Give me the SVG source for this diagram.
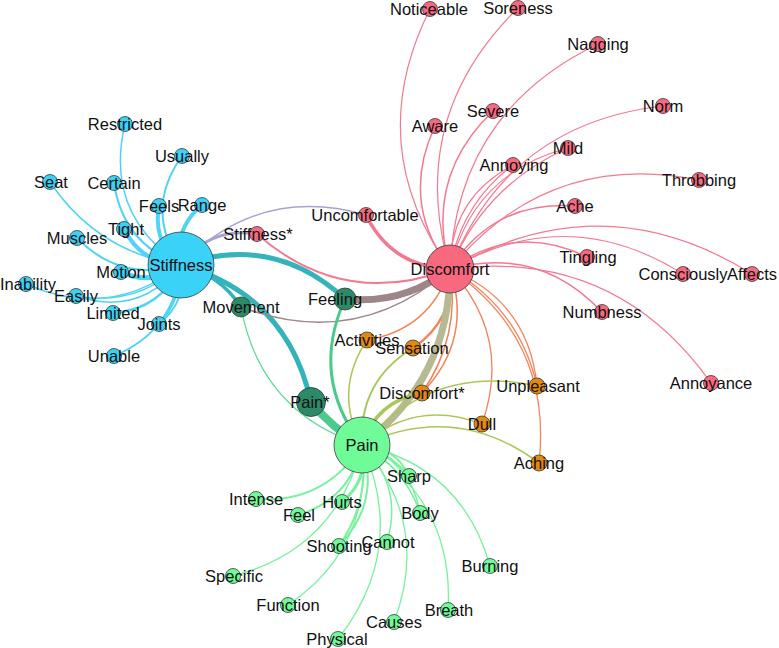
<svg xmlns="http://www.w3.org/2000/svg" width="779" height="648" viewBox="0 0 779 648">
<style>
.e{fill:none;stroke-linecap:round}
.ec{stroke:#4fd3f6}
.ep{stroke:#f47890}
.eg{stroke:#78f29e}
.eo{stroke:#f28358}
.ey{stroke:#aac85a}
.n{stroke:#3a3a3a;stroke-width:0.8}
.nc{fill:#3bd2f8}
.np{fill:#f8697f}
.ng{fill:#6ffb98}
.no{fill:#e5880f}
.nd{fill:#2b8a68}
text{font-family:"Liberation Sans",Arial,sans-serif;font-size:16.5px;fill:#111;text-anchor:middle}
</style>
<rect width="779" height="648" fill="#ffffff"/>
<g id="connectors">
<!-- Stiffness spokes -->
<path class="e ec" stroke-width="1.5" d="M181 265 Q103.6 214.1 125 124"/>
<path class="e ec" stroke-width="2" d="M181 265 Q143.3 210.2 182 156"/>
<path class="e ec" stroke-width="1.5" d="M181 265 Q97.2 252.3 50 182"/>
<path class="e ec" stroke-width="2" d="M181 265 Q122.9 244.1 114 183"/>
<path class="e ec" stroke-width="4" d="M181 265 Q152.3 242.1 159 206"/>
<path class="e ec" stroke-width="4" d="M181 265 Q173.5 228.7 202 205"/>
<path class="e ec" stroke-width="4" d="M181 265 Q141.7 264.1 124 229"/>
<path class="e ec" stroke-width="2" d="M181 265 Q120.9 282.7 77 238"/>
<path class="e ec" stroke-width="5" d="M181 265 Q153.1 286.5 121 272"/>
<path class="e ec" stroke-width="1.5" d="M181 265 Q109.2 321 26 284"/>
<path class="e ec" stroke-width="1.5" d="M181 265 Q139.4 317.3 76 296"/>
<path class="e ec" stroke-width="1.5" d="M181 265 Q136.3 306.8 76 296"/>
<path class="e ec" stroke-width="2.5" d="M181 265 Q161.4 309.4 113 313"/>
<path class="e ec" stroke-width="2" d="M181 265 Q187.7 301.1 159 324"/>
<path class="e ec" stroke-width="2" d="M181 265 Q181.8 298.9 159 324"/>
<path class="e ec" stroke-width="2" d="M181 265 Q174.8 330.6 114 356"/>
<!-- Stiffness to pink / others -->
<path class="e" stroke="#a6a2d2" stroke-width="1.5" d="M181 265 Q258.5 184.5 366 215"/>
<path class="e" stroke="#a6a2d2" stroke-width="3" d="M181 265 Q209.7 226.7 257 234"/>
<path class="e" stroke="#34b4ba" stroke-width="5" d="M181 265 Q273.2 232.8 345 299"/>
<path class="e" stroke="#34b4ba" stroke-width="3.5" d="M181 265 Q219.4 274 241 307"/>
<path class="e" stroke="#34b4ba" stroke-width="5" d="M181 265 Q287.1 294.5 311 402"/>
<!-- Discomfort spokes -->
<path class="e ep" stroke-width="1.2" d="M450 269 Q362 145 430 9"/>
<path class="e ep" stroke-width="1.2" d="M450 269 Q405.7 118.1 518 8"/>
<path class="e ep" stroke-width="1.2" d="M450 269 Q456.5 112.1 598 44"/>
<path class="e ep" stroke-width="1.2" d="M450 269 Q507.6 123.6 663 106"/>
<path class="e ep" stroke-width="1.5" d="M450 269 Q424.1 177.1 493 111"/>
<path class="e ep" stroke-width="1.5" d="M450 269 Q399.6 202 435 126"/>
<path class="e ep" stroke-width="1.2" d="M450 269 Q472.7 173.1 568 148"/>
<path class="e ep" stroke-width="1.2" d="M450 269 Q484.8 184.9 568 148"/>
<path class="e ep" stroke-width="1.2" d="M450 269 Q450.3 198.1 513 165"/>
<path class="e ep" stroke-width="1.2" d="M450 269 Q460.7 204.4 513 165"/>
<path class="e ep" stroke-width="1.2" d="M450 269 Q547.8 149.8 699 180"/>
<path class="e ep" stroke-width="1.5" d="M450 269 Q493.6 200 575 206"/>
<path class="e ep" stroke-width="1.5" d="M450 269 Q514.9 221.9 587 257"/>
<path class="e ep" stroke-width="1.2" d="M450 269 Q568 201.6 683 274"/>
<path class="e ep" stroke-width="1.2" d="M450 269 Q602.5 180.9 752 274"/>
<path class="e ep" stroke-width="1.5" d="M450 269 Q538.9 244.9 602 312"/>
<path class="e ep" stroke-width="1.2" d="M450 269 Q614.7 247.7 711 383"/>
<path class="e ep" stroke-width="3.5" d="M450 269 Q391.8 267.2 366 215"/>
<path class="e ep" stroke-width="2" d="M450 269 Q343 309.4 257 234"/>
<!-- Discomfort to dark green -->
<path class="e" stroke="#9c8687" stroke-width="7" d="M450 269 Q403.5 305 345 299"/>
<path class="e" stroke="#a08688" stroke-width="1.5" d="M450 269 Q356.9 350.7 241 307"/>
<!-- Discomfort to orange -->
<path class="e eo" stroke-width="1.5" d="M450 269 Q429.8 329.4 367 340"/>
<path class="e eo" stroke-width="2.5" d="M450 269 Q455.2 319.6 413 348"/>
<path class="e eo" stroke-width="1.5" d="M450 269 Q473.2 339.4 422 393"/>
<path class="e eo" stroke-width="1.5" d="M450 269 Q460.8 336.6 422 393"/>
<path class="e eo" stroke-width="1.3" d="M450 269 Q512.5 336.9 482 424"/>
<path class="e eo" stroke-width="1.3" d="M450 269 Q528.6 301.4 537 386"/>
<path class="e eo" stroke-width="1.3" d="M450 269 Q519.2 308.4 537 386"/>
<path class="e eo" stroke-width="1.3" d="M450 269 Q552.7 339.3 539 463"/>
<!-- Discomfort to Pain -->
<path class="e" stroke="#b6b991" stroke-width="7" d="M450 269 Q450 379 362 445"/>
<!-- Pain to orange -->
<path class="e ey" stroke-width="1.5" d="M362 445 Q333 391 367 340"/>
<path class="e ey" stroke-width="2" d="M362 445 Q358.4 381.2 413 348"/>
<path class="e ey" stroke-width="3.5" d="M362 445 Q376.4 401 422 393"/>
<path class="e ey" stroke-width="1.5" d="M362 445 Q431.8 363 537 386"/>
<path class="e ey" stroke-width="1.5" d="M362 445 Q415.7 398.5 482 424"/>
<path class="e ey" stroke-width="1.5" d="M362 445 Q455.9 400.9 539 463"/>
<!-- Pain to dark green -->
<path class="e" stroke="#4cc98c" stroke-width="8" d="M362 445 Q332.2 428.6 311 402"/>
<path class="e" stroke="#4cc98c" stroke-width="3" d="M362 445 Q309.7 377.1 345 299"/>
<path class="e" stroke="#5bd993" stroke-width="1.3" d="M362 445 Q260.1 412.3 241 307"/>
<!-- Pain spokes -->
<path class="e eg" stroke-width="2" d="M362 445 Q394.8 446.4 409 476"/>
<path class="e eg" stroke-width="2" d="M362 445 Q390.2 453.5 409 476"/>
<path class="e eg" stroke-width="2" d="M362 445 Q325.2 503.8 256 499"/>
<path class="e eg" stroke-width="3" d="M362 445 Q369.1 479.5 342 502"/>
<path class="e eg" stroke-width="2" d="M362 445 Q351 499.2 298 515"/>
<path class="e eg" stroke-width="1.5" d="M362 445 Q411.4 461.6 420 513"/>
<path class="e eg" stroke-width="1.5" d="M362 445 Q404.6 467.4 420 513"/>
<path class="e eg" stroke-width="2" d="M362 445 Q380.8 502.4 339 546"/>
<path class="e eg" stroke-width="2" d="M362 445 Q370.7 500.1 339 546"/>
<path class="e eg" stroke-width="1.5" d="M362 445 Q403.6 486 387 542"/>
<path class="e eg" stroke-width="1.3" d="M362 445 Q462.3 467.1 490 566"/>
<path class="e eg" stroke-width="1.3" d="M362 445 Q336.8 549.2 233 576"/>
<path class="e eg" stroke-width="1.3" d="M362 445 Q373 547.2 288 605"/>
<path class="e eg" stroke-width="1.3" d="M362 445 Q454.5 501.7 448 610"/>
<path class="e eg" stroke-width="1.3" d="M362 445 Q431.1 523.9 394 622"/>
<path class="e eg" stroke-width="1.3" d="M362 445 Q408.2 549.2 338 639"/>
</g>
<!-- Stiffness cluster -->
<g id="n-stiffness"><circle class="n nc" cx="181" cy="265" r="33"/><text x="181" y="271">Stiffness</text></g>
<g id="n-restricted"><circle class="n nc" cx="125" cy="124" r="7.5"/><text x="125" y="130">Restricted</text></g>
<g id="n-usually"><circle class="n nc" cx="182" cy="156" r="7.5"/><text x="182" y="162">Usually</text></g>
<g id="n-seat"><circle class="n nc" cx="50" cy="182" r="7.5"/><text x="51" y="188">Seat</text></g>
<g id="n-certain"><circle class="n nc" cx="114" cy="183" r="7.5"/><text x="114" y="189">Certain</text></g>
<g id="n-feels"><circle class="n nc" cx="159" cy="206" r="7.5"/><text x="159" y="212">Feels</text></g>
<g id="n-range"><circle class="n nc" cx="202" cy="205" r="7.5"/><text x="202" y="211">Range</text></g>
<g id="n-tight"><circle class="n nc" cx="124" cy="229" r="7.5"/><text x="126" y="235">Tight</text></g>
<g id="n-muscles"><circle class="n nc" cx="77" cy="238" r="7.5"/><text x="77" y="244">Muscles</text></g>
<g id="n-motion"><circle class="n nc" cx="121" cy="272" r="7.5"/><text x="121" y="278">Motion</text></g>
<g id="n-inability"><circle class="n nc" cx="26" cy="284" r="7.5"/><text x="28" y="290">Inability</text></g>
<g id="n-easily"><circle class="n nc" cx="76" cy="296" r="7.5"/><text x="76" y="302">Easily</text></g>
<g id="n-limited"><circle class="n nc" cx="113" cy="313" r="7.5"/><text x="113" y="319">Limited</text></g>
<g id="n-joints"><circle class="n nc" cx="159" cy="324" r="7.5"/><text x="159" y="330">Joints</text></g>
<g id="n-unable"><circle class="n nc" cx="114" cy="356" r="7.5"/><text x="114" y="362">Unable</text></g>
<!-- Discomfort cluster -->
<g id="n-discomfort"><circle class="n np" cx="450" cy="269" r="24"/><text x="450" y="275">Discomfort</text></g>
<g id="n-noticeable"><circle class="n np" cx="430" cy="9" r="7.5"/><text x="429" y="15">Noticeable</text></g>
<g id="n-soreness"><circle class="n np" cx="518" cy="8" r="7.5"/><text x="518" y="14">Soreness</text></g>
<g id="n-nagging"><circle class="n np" cx="598" cy="44" r="7.5"/><text x="598" y="50">Nagging</text></g>
<g id="n-norm"><circle class="n np" cx="663" cy="106" r="7.5"/><text x="663" y="112">Norm</text></g>
<g id="n-severe"><circle class="n np" cx="493" cy="111" r="7.5"/><text x="493" y="117">Severe</text></g>
<g id="n-aware"><circle class="n np" cx="435" cy="126" r="7.5"/><text x="435" y="132">Aware</text></g>
<g id="n-mild"><circle class="n np" cx="568" cy="148" r="7.5"/><text x="568" y="154">Mild</text></g>
<g id="n-annoying"><circle class="n np" cx="513" cy="165" r="7.5"/><text x="514" y="171">Annoying</text></g>
<g id="n-throbbing"><circle class="n np" cx="699" cy="180" r="7.5"/><text x="699" y="186">Throbbing</text></g>
<g id="n-ache"><circle class="n np" cx="575" cy="206" r="7.5"/><text x="575" y="212">Ache</text></g>
<g id="n-tingling"><circle class="n np" cx="587" cy="257" r="7.5"/><text x="588" y="263">Tingling</text></g>
<g id="n-consciously"><circle class="n np" cx="683" cy="274" r="7.5"/><text x="683" y="280">Consciously</text></g>
<g id="n-affects"><circle class="n np" cx="752" cy="274" r="7.5"/><text x="752" y="280">Affects</text></g>
<g id="n-numbness"><circle class="n np" cx="602" cy="312" r="7.5"/><text x="602" y="318">Numbness</text></g>
<g id="n-annoyance"><circle class="n np" cx="711" cy="383" r="7.5"/><text x="711" y="389">Annoyance</text></g>
<g id="n-uncomfortable"><circle class="n np" cx="366" cy="215" r="7.5"/><text x="365" y="221">Uncomfortable</text></g>
<g id="n-stiffness-star"><circle class="n np" cx="257" cy="234" r="7.5"/><text x="258" y="240">Stiffness*</text></g>
<!-- Dark green -->
<g id="n-feeling"><circle class="n nd" cx="345" cy="299" r="11"/><text x="335" y="305">Feeling</text></g>
<g id="n-movement"><circle class="n nd" cx="241" cy="307" r="10"/><text x="241" y="313">Movement</text></g>
<g id="n-pain-star"><circle class="n nd" cx="311" cy="402" r="14.5"/><text x="310" y="408">Pain*</text></g>
<!-- Orange -->
<g id="n-activities"><circle class="n no" cx="367" cy="340" r="8"/><text x="367" y="346">Activities</text></g>
<g id="n-sensation"><circle class="n no" cx="413" cy="348" r="8"/><text x="412" y="354">Sensation</text></g>
<g id="n-discomfort-star"><circle class="n no" cx="422" cy="393" r="8"/><text x="422" y="399">Discomfort*</text></g>
<g id="n-unpleasant"><circle class="n no" cx="537" cy="386" r="8"/><text x="538" y="392">Unpleasant</text></g>
<g id="n-dull"><circle class="n no" cx="482" cy="424" r="8"/><text x="482" y="430">Dull</text></g>
<g id="n-aching"><circle class="n no" cx="539" cy="463" r="8"/><text x="539" y="469">Aching</text></g>
<!-- Pain cluster -->
<g id="n-pain"><circle class="n ng" cx="362" cy="445" r="28"/><text x="362" y="451">Pain</text></g>
<g id="n-sharp"><circle class="n ng" cx="409" cy="476" r="7.5"/><text x="409" y="482">Sharp</text></g>
<g id="n-intense"><circle class="n ng" cx="256" cy="499" r="7.5"/><text x="256" y="505">Intense</text></g>
<g id="n-hurts"><circle class="n ng" cx="342" cy="502" r="7.5"/><text x="342" y="508">Hurts</text></g>
<g id="n-feel"><circle class="n ng" cx="298" cy="515" r="7.5"/><text x="299" y="521">Feel</text></g>
<g id="n-body"><circle class="n ng" cx="420" cy="513" r="7.5"/><text x="420" y="519">Body</text></g>
<g id="n-shooting"><circle class="n ng" cx="339" cy="546" r="7.5"/><text x="339" y="552">Shooting</text></g>
<g id="n-cannot"><circle class="n ng" cx="387" cy="542" r="7.5"/><text x="388" y="548">Cannot</text></g>
<g id="n-burning"><circle class="n ng" cx="490" cy="566" r="7.5"/><text x="490" y="572">Burning</text></g>
<g id="n-specific"><circle class="n ng" cx="233" cy="576" r="7.5"/><text x="234" y="582">Specific</text></g>
<g id="n-function"><circle class="n ng" cx="288" cy="605" r="7.5"/><text x="288" y="611">Function</text></g>
<g id="n-breath"><circle class="n ng" cx="448" cy="610" r="7.5"/><text x="449" y="616">Breath</text></g>
<g id="n-causes"><circle class="n ng" cx="394" cy="622" r="7.5"/><text x="394" y="628">Causes</text></g>
<g id="n-physical"><circle class="n ng" cx="338" cy="639" r="7.5"/><text x="337" y="645">Physical</text></g>
</svg>
